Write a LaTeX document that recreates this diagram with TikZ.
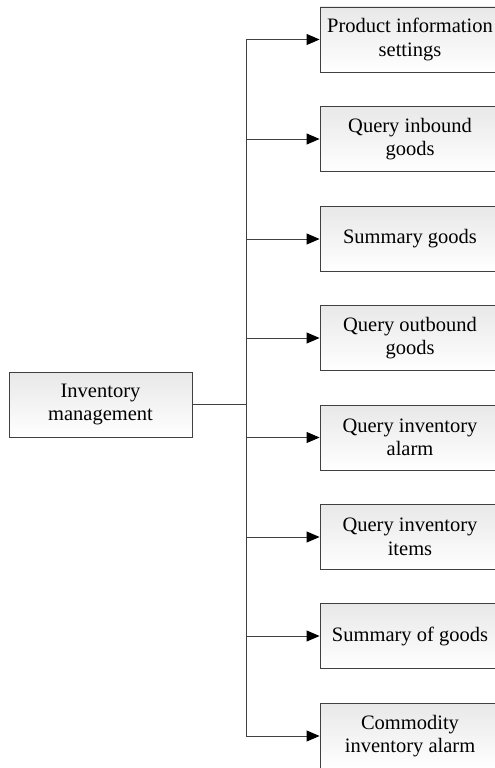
\documentclass[tikz,border=0pt]{standalone}
\usepackage{fontspec}
\setmainfont{Liberation Serif}
\usetikzlibrary{arrows.meta}
\begin{document}
\begin{tikzpicture}[x=1pt,y=-1pt,
  box/.style={draw=black!75,line width=0.9pt,top color=black!9,bottom color=white,
    minimum width=180pt,minimum height=65pt,align=center,inner sep=0pt,
    font=\fontsize{20.5}{23.5}\selectfont},
  lbox/.style={box,minimum width=183pt},
  conn/.style={draw=black!75,line width=0.9pt},
  arr/.style={conn,-{Triangle[length=13pt,width=11pt,fill=black,color=black]}}]
\useasboundingbox (0,0) rectangle (495,768);
\clip (0,0) rectangle (495,768);
\node[lbox] (root) at (100.5,404.5) {Inventory\\management};
\node[box] (b1) at (410,39.5) {Product information\\settings};
\node[box] (b2) at (410,139) {Query inbound\\goods};
\node[box] (b3) at (410,239) {Summary goods};
\node[box] (b4) at (410,338) {Query outbound\\goods};
\node[box] (b5) at (410,437.5) {Query inventory\\alarm};
\node[box] (b6) at (410,537) {Query inventory\\items};
\node[box] (b7) at (410,636) {Summary of goods};
\node[box] (b8) at (410,736) {Commodity\\inventory alarm};
\coordinate (j) at (246,404.5);
\coordinate (t1) at (246,39.5);
\coordinate (t8) at (246,736);
\draw[conn] (root.east) -- (j);
\draw[conn] (t1) -- (t8);
\foreach \n in {b1,b2,b3,b4,b5,b6,b7,b8}
  \draw[arr] (j |- \n.west) -- (\n.west);
\end{tikzpicture}
\end{document}
